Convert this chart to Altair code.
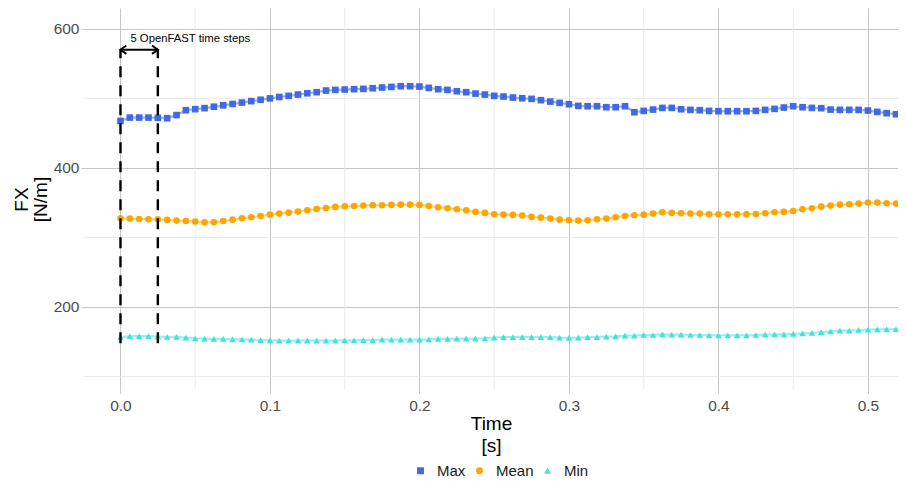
import altair as alt
import pandas as pd

# ---------------- data ----------------
series_names = ["Max", "Mean", "Min"]
series_colors = ["#4169E1", "#FFA500", "#44E2DE"]
series_shapes = ["square", "circle", "triangle-up"]

dt = 0.00625
n_points = 84
times = [round(i * dt, 5) for i in range(n_points)]

fx_max = [
    467.6, 472.4, 472.4, 472.4, 472.0, 471.5, 476.0, 483.0, 484.5, 486.0,
    488.0, 490.0, 492.0, 494.0, 496.0, 498.0, 500.0, 502.0, 503.6, 505.5,
    507.4, 508.9, 511.3, 512.2, 512.7, 513.2, 513.7, 514.6, 515.6, 516.5,
    517.5, 517.5, 517.0, 515.1, 513.2, 512.2, 510.3, 508.9, 506.9, 505.5,
    503.6, 502.6, 501.2, 500.2, 499.3, 497.4, 495.4, 493.5, 491.6, 489.2,
    488.7, 488.7, 487.3, 487.3, 488.7, 480.1, 482.0, 483.9, 486.3, 486.3,
    484.4, 483.5, 483.0, 482.0, 481.5, 481.5, 481.5, 481.5, 482.0, 483.5,
    484.9, 486.8, 488.7, 487.3, 486.3, 485.9, 483.9, 483.5, 483.5, 483.5,
    482.5, 480.6, 478.7, 477.2,
]
fx_mean = [
    327.6, 327.1, 326.6, 326.1, 326.1, 325.2, 324.2, 323.7, 322.8, 321.8,
    321.8, 323.7, 325.6, 327.6, 329.0, 330.9, 332.8, 334.3, 335.7, 337.2,
    339.1, 341.0, 342.4, 343.9, 344.9, 345.3, 345.8, 346.3, 346.3, 346.8,
    347.2, 347.2, 346.8, 345.3, 343.4, 342.0, 340.6, 339.1, 336.7, 335.3,
    333.4, 332.8, 332.4, 331.4, 329.5, 328.5, 327.1, 325.6, 324.7, 324.2,
    324.7, 326.1, 327.1, 329.0, 330.9, 331.9, 332.8, 334.3, 336.2, 335.3,
    334.8, 334.3, 334.3, 333.4, 333.4, 333.4, 333.4, 333.4, 333.8, 334.8,
    336.2, 336.7, 338.1, 340.6, 342.0, 344.4, 345.8, 347.2, 347.7, 348.7,
    350.1, 350.1, 349.2, 348.7,
]
fx_min = [
    156.5, 158.0, 158.0, 158.0, 157.5, 157.0, 157.0, 156.0, 155.0, 154.5,
    154.0, 154.0, 153.5, 153.5, 153.0, 152.5, 152.0, 151.6, 151.6, 151.6,
    151.6, 151.6, 151.6, 151.6, 152.0, 152.0, 152.5, 152.5, 153.0, 153.0,
    153.0, 153.0, 153.0, 153.5, 154.0, 154.0, 154.5, 154.5, 154.5, 155.0,
    155.9, 156.8, 156.8, 156.8, 156.8, 156.8, 156.8, 155.9, 155.4, 155.9,
    156.8, 156.8, 157.3, 157.8, 158.8, 158.8, 159.7, 159.7, 160.7, 160.2,
    160.2, 159.7, 159.7, 159.3, 159.3, 159.3, 159.3, 159.3, 159.7, 160.2,
    160.7, 160.7, 161.2, 162.1, 162.6, 164.0, 165.0, 166.0, 166.0, 166.9,
    167.4, 167.9, 167.9, 168.3,
]

x_major = [0.0, 0.1, 0.2, 0.3, 0.4, 0.5]
x_minor = [0.05, 0.15, 0.25, 0.35, 0.45]
y_major = [200, 400, 600]
y_minor = [100, 300, 500]

# annotation: "5 OpenFAST time steps"
marker_times = [0.0, 0.025]
marker_bottom = 148
marker_top = 570
note_text = "5 OpenFAST time steps"
note_time = 0.0467
note_value = 585

x_domain = [-0.0244, 0.5201]
y_domain = [80.6, 630.0]

# ---------------- tables ----------------
rows = []
for name, vals in zip(series_names, [fx_max, fx_mean, fx_min]):
    for t, v in zip(times, vals):
        rows.append({"Time": t, "FX": v, "series": name})
df = pd.DataFrame(rows)

font = "Liberation Sans"

xs = alt.Scale(domain=x_domain, nice=False, zero=False)
ys = alt.Scale(domain=y_domain, nice=False, zero=False)
color_scale = alt.Scale(domain=series_names, range=series_colors)
shape_scale = alt.Scale(domain=series_names, range=series_shapes)

minor_x = alt.Chart(pd.DataFrame({"x": x_minor})).mark_rule(
    color="#e6e6e6", strokeWidth=0.8
).encode(x=alt.X("x:Q", scale=xs))
minor_y = alt.Chart(pd.DataFrame({"y": y_minor})).mark_rule(
    color="#e6e6e6", strokeWidth=0.8
).encode(y=alt.Y("y:Q", scale=ys))

base = alt.Chart(df)

x_enc = alt.X(
    "Time:Q",
    scale=xs,
    title=["Time", "[s]"],
    axis=alt.Axis(values=x_major, format=".1f"),
)
y_enc = alt.Y(
    "FX:Q",
    scale=ys,
    title=["FX", "[N/m]"],
    axis=alt.Axis(values=y_major),
)

lines = base.mark_line(strokeWidth=2.2, opacity=0.55).encode(
    x=x_enc,
    y=y_enc,
    color=alt.Color("series:N", scale=color_scale, legend=alt.Legend(title=None)),
    detail="series:N",
)

points = base.mark_point(filled=True, opacity=1, size=44).encode(
    x=alt.X("Time:Q", scale=xs),
    y=alt.Y("FX:Q", scale=ys),
    color=alt.Color("series:N", scale=color_scale, legend=alt.Legend(title=None)),
    shape=alt.Shape("series:N", scale=shape_scale, legend=alt.Legend(title=None)),
)

seg_df = pd.DataFrame({"t": marker_times, "lo": [marker_bottom] * 2, "hi": [marker_top] * 2})
dashed = alt.Chart(seg_df).mark_rule(
    color="black", strokeWidth=2.4, strokeDash=[11, 8]
).encode(
    x=alt.X("t:Q", scale=xs),
    y=alt.Y("lo:Q", scale=ys),
    y2="hi:Q",
)

arrow_df = pd.DataFrame({"t0": [marker_times[0]], "t1": [marker_times[1]], "y": [marker_top]})
arrow_line = alt.Chart(arrow_df).mark_rule(color="black", strokeWidth=2).encode(
    x=alt.X("t0:Q", scale=xs),
    x2="t1:Q",
    y=alt.Y("y:Q", scale=ys),
)

head_df = pd.DataFrame({"t": marker_times, "y": [marker_top] * 2, "dir": ["left", "right"]})
head_left = alt.Chart(head_df).transform_filter(alt.datum.dir == "left").mark_point(
    shape="M1.4,-1L0,0L1.4,1", filled=False, color="black", strokeWidth=2, size=70, opacity=1
).encode(x=alt.X("t:Q", scale=xs), y=alt.Y("y:Q", scale=ys))
head_right = alt.Chart(head_df).transform_filter(alt.datum.dir == "right").mark_point(
    shape="M-1.4,-1L0,0L-1.4,1", filled=False, color="black", strokeWidth=2, size=70, opacity=1
).encode(x=alt.X("t:Q", scale=xs), y=alt.Y("y:Q", scale=ys))

note_df = pd.DataFrame({"t": [note_time], "y": [note_value], "label": [note_text]})
note = alt.Chart(note_df).mark_text(
    fontSize=11.3, font=font, color="black", align="center", baseline="middle"
).encode(x=alt.X("t:Q", scale=xs), y=alt.Y("y:Q", scale=ys), text="label:N")

chart = alt.layer(
    minor_x, minor_y, lines, points, dashed, arrow_line, head_left, head_right, note
).properties(
    width=814,
    height=382,
    autosize=alt.AutoSizeParams(type="none"),
    padding={"left": 76, "top": 0, "right": 0, "bottom": 89},
).configure_view(
    stroke=None
).configure_axis(
    domain=False,
    grid=True,
    gridColor="#c6c6c6",
    gridWidth=1,
    ticks=True,
    tickColor="#c6c6c6",
    tickSize=3,
    labelFont=font,
    labelFontSize=15.5,
    labelColor="#4d4d4d",
    titleFont=font,
    titleFontSize=19,
    titleFontWeight="normal",
    titleColor="black",
).configure_axisX(
    labelPadding=5,
    titlePadding=1,
    titleLineHeight=22,
).configure_axisY(
    labelPadding=2,
    titlePadding=3,
    titleLineHeight=19,
).configure_legend(
    orient="none",
    legendX=329,
    legendY=455,
    direction="horizontal",
    labelFont=font,
    labelFontSize=15,
    labelColor="#1a1a1a",
    symbolSize=48,
    symbolOpacity=1,
    labelOffset=9,
    columnPadding=6,
    symbolStrokeWidth=0,
    padding=0,
)

chart.save("out.html", embed_options={"renderer": "svg", "actions": False})
